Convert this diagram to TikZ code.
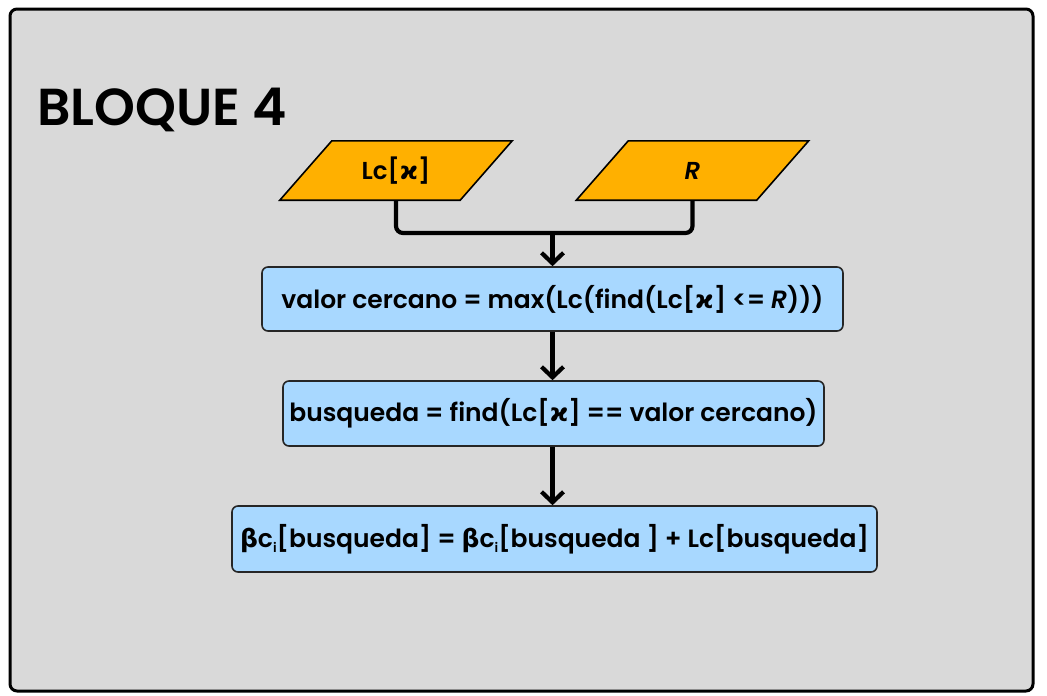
\documentclass[tikz,border=0pt]{standalone}
\usepackage{fontspec}
\setmainfont{Poppins}[BoldFont={Poppins SemiBold}]
\newfontfamily\grk{DejaVu Sans}
\usetikzlibrary{arrows.meta}
\definecolor{panelgray}{HTML}{D9D9D9}
\definecolor{inorange}{HTML}{FFB000}
\definecolor{stepblue}{HTML}{A8D8FF}
\newcommand{\kap}{{\grk\bfseries ϰ}}
\newcommand{\bet}{{\grk\bfseries β}}
\newcommand{\subi}{\raisebox{-0.35ex}{\fontsize{13}{13}\selectfont i}}
\tikzset{
  frame/.style={draw=black, line width=3pt, fill=panelgray, rounded corners=7pt},
  inputbox/.style={minimum width=180pt, minimum height=59pt, inner sep=0pt,
    font=\fontsize{24.5}{28}\selectfont\bfseries},
  para/.style={draw=black, line width=1.6pt, fill=inorange, line join=miter},
  stepbox/.style={draw=black!85, line width=1.6pt, fill=stepblue, rounded corners=6pt,
    inner sep=0pt, font=\fontsize{25}{30}\selectfont\bfseries},
  flow/.style={draw=black, line width=4.2pt, rounded corners=7pt},
  flowarrow/.style={flow, -{Straight Barb[length=10.5pt,width=22pt,line width=4.2pt]}},
}
\begin{document}
\begin{tikzpicture}[x=1pt, y=-1pt]
  \useasboundingbox (0,0) rectangle (1047,696);
  \fill[white] (0,0) rectangle (1047,696);
  \draw[frame] (10,9) rectangle (1033,691);

  \node[anchor=base west, inner sep=0pt, font=\fontsize{52}{60}\selectfont\bfseries]
    (title) at (37,125) {BLOQUE 4};

  % input parallelograms
  \node[inputbox] (lc) at (396,170.5) {};
  \node[inputbox] (r) at (692.5,170.5) {};
  \foreach \n in {lc,r}{
    \draw[para] ([xshift=-26pt]\n.south west) -- ([xshift=-26pt]\n.south east)
      -- ([xshift=26pt]\n.north east) -- ([xshift=26pt]\n.north west) -- cycle;
  }
  \node[inputbox] at (lc) {Lc[\kap]};
  \node[inputbox] at (r) {\itshape R};

  % process steps
  \node[stepbox, minimum width=581pt, minimum height=64pt] (b1) at (552.5,299)
    {valor cercano = max(Lc(find(Lc[\kap] <= \textit{R})))};
  \node[stepbox, minimum width=541pt, minimum height=65pt] (b2) at (553.5,413.5)
    {busqueda = find(Lc[\kap] == valor cercano)};
  \node[stepbox, minimum width=645pt, minimum height=66pt] (b3) at (554.5,539)
    {\bet c\subi[busqueda] = \bet c\subi[busqueda ] + Lc[busqueda]};

  % connectors
  \coordinate (join) at (b1.north |- 0,233);
  \draw[flow] ([yshift=-0.8pt]lc.south) |- (join);
  \draw[flow] ([yshift=-0.8pt]r.south) |- (join);
  \draw[flowarrow] ([yshift=2pt]join) -- (b1.north);
  \draw[flowarrow] (b1.south) -- (b1.south |- b2.north);
  \draw[flowarrow] (b2.south -| b1.south) -- (b1.south |- b3.north);
\end{tikzpicture}
\end{document}
